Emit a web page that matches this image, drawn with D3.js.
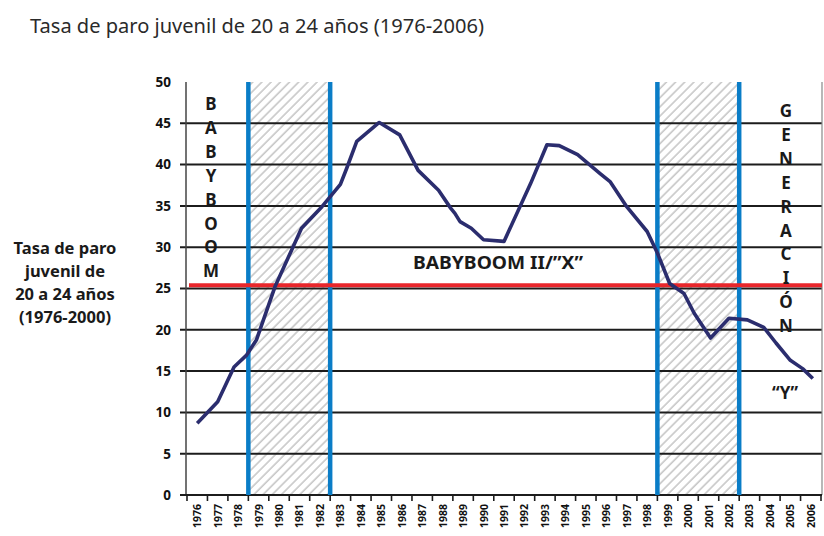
<!DOCTYPE html>
<html>
<head>
<meta charset="utf-8">
<script src="https://cdn.jsdelivr.net/npm/d3@7"></script>
<style>
  body { margin: 0; background: #fff; }
  text { font-family: 'Noto Sans', sans-serif; }
</style>
</head>
<body>
<div id="graf"></div>
<script>
// Datos
const anios = [1976, 1977, 1978, 1979, 1980, 1981, 1982, 1983, 1984, 1985, 1986,
  1987, 1988, 1989, 1990, 1991, 1992, 1993, 1994, 1995, 1996, 1997, 1998, 1999,
  2000, 2001, 2002, 2003, 2004, 2005, 2006]

// periodo (año con decimales) y tasa de paro
const periodo = [1976.0, 1977.0, 1977.8, 1978.4, 1978.9, 1979.8, 1981.1, 1982.1,
  1983.0, 1983.3, 1983.8, 1984.9, 1985.9, 1986.8, 1987.8, 1988.4, 1988.6, 1988.85,
  1989.4, 1990.0, 1991.0, 1992.3, 1993.1, 1993.7, 1994.6, 1995.7, 1996.2, 1997.0,
  1998.0, 1998.5, 1999.1, 1999.8, 2000.3, 2001.1, 2002.0, 2002.9, 2003.7, 2004.3,
  2005.0, 2005.6, 2006.1]
const tasa = [8.7, 11.3, 15.5, 16.9, 18.8, 25.2, 32.3, 34.9,
  37.6, 39.5, 42.8, 45.1, 43.6, 39.3, 36.9, 34.7, 34.1, 33.1,
  32.3, 30.9, 30.7, 37.7, 42.4, 42.3, 41.2, 38.9, 37.9, 34.9,
  31.9, 29.3, 25.6, 24.4, 22.0, 19.0, 21.4, 21.2, 20.3, 18.4,
  16.3, 15.3, 14.1]

const yTicks = [0, 5, 10, 15, 20, 25, 30, 35, 40, 45, 50]
const gridValores = [5, 10, 15, 20, 25, 30, 35, 40, 45]
const umbral = 25.4
// periodos sombreados [inicio, fin)
const periodosInicio = [1979, 1999]
const periodosFin = [1983, 2003]

const titulo = 'Tasa de paro juvenil de 20 a 24 años (1976-2006)'
const etiquetaY = ['Tasa de paro', 'juvenil de', '20 a 24 años', '(1976-2000)']
const generacion1 = 'BABYBOOM'
const generacion2 = 'BABYBOOM II/\u201DX\u201D'
const generacion3 = 'GENERACIÓN'
const generacion4 = '\u201CY\u201D'

// Dimensiones
const anchoTotal = 824
const altoTotal = 536
const margins = { top: 82, right: 3, bottom: 41, left: 187 }
const ancho = anchoTotal - margins.left - margins.right
const alto = altoTotal - margins.top - margins.bottom

const svg = d3.select('#graf').append('svg')
  .attr('width', anchoTotal)
  .attr('height', altoTotal)

const defs = svg.append('defs')
const patron = defs.append('pattern')
  .attr('id', 'rayado')
  .attr('patternUnits', 'userSpaceOnUse')
  .attr('width', 6.5)
  .attr('height', 6.5)
  .attr('patternTransform', 'rotate(45)')
patron.append('line')
  .attr('x1', 1).attr('y1', 0).attr('x2', 1).attr('y2', 6.5)
  .attr('stroke', '#adadad')
  .attr('stroke-width', 1.1)

// Título
svg.append('text')
  .attr('x', 30)
  .attr('y', 33)
  .attr('font-size', 20)
  .attr('fill', '#2a2a2a')
  .attr('textLength', 454)
  .attr('lengthAdjust', 'spacingAndGlyphs')
  .text(titulo)

// Etiqueta del eje Y
svg.append('g')
  .selectAll('text')
  .data(etiquetaY)
  .join('text')
  .attr('x', 65)
  .attr('y', (d, i) => 254 + i * 23)
  .attr('text-anchor', 'middle')
  .attr('font-size', 16.5)
  .attr('font-weight', 'bold')
  .attr('fill', '#1a1a1a')
  .text(d => d)

const g = svg.append('g')
  .attr('transform', `translate(${margins.left}, ${margins.top})`)

// Escaladores
const x = d3.scaleBand()
  .domain(anios)
  .range([0, ancho])
const xt = d3.scaleLinear()
  .domain([anios[0] - 0.5, anios[anios.length - 1] + 0.5])
  .range([0, ancho])
const y = d3.scaleLinear()
  .domain([0, 50])
  .range([alto, 0])

// Periodos sombreados
const periodos = periodosInicio.map((d, i) => [d, periodosFin[i]])
g.append('g')
  .selectAll('rect')
  .data(periodos)
  .join('rect')
  .attr('x', d => x(d[0]))
  .attr('y', y(50))
  .attr('width', d => x(d[1]) - x(d[0]))
  .attr('height', y(0) - y(50))
  .attr('fill', 'url(#rayado)')

// Líneas horizontales
g.append('g')
  .selectAll('line')
  .data(gridValores)
  .join('line')
  .attr('x1', -7)
  .attr('x2', ancho + 1)
  .attr('y1', d => y(d))
  .attr('y2', d => y(d))
  .attr('stroke', '#1c1c1c')
  .attr('stroke-width', 2)

// Eje Y
g.append('line')
  .attr('x1', -1).attr('x2', -1)
  .attr('y1', y(50)).attr('y2', y(0))
  .attr('stroke', '#444')
  .attr('stroke-width', 1.5)
g.append('line')
  .attr('x1', ancho + 1).attr('x2', ancho + 1)
  .attr('y1', y(50)).attr('y2', y(0))
  .attr('stroke', '#888')
  .attr('stroke-width', 1.2)

g.append('g')
  .selectAll('text')
  .data(yTicks)
  .join('text')
  .attr('x', -16)
  .attr('y', d => y(d))
  .attr('dy', '0.36em')
  .attr('text-anchor', 'end')
  .attr('font-size', 13.5)
  .attr('font-weight', 'bold')
  .attr('fill', '#111')
  .text(d => d)

// Eje X
g.append('line')
  .attr('x1', -7).attr('x2', ancho + 1)
  .attr('y1', y(0)).attr('y2', y(0))
  .attr('stroke', '#1c1c1c')
  .attr('stroke-width', 2.2)

const limites = anios.map(d => x(d)).concat([ancho])
g.append('g')
  .selectAll('line')
  .data(limites)
  .join('line')
  .attr('x1', d => d).attr('x2', d => d)
  .attr('y1', y(0)).attr('y2', y(0) + 6)
  .attr('stroke', '#1c1c1c')
  .attr('stroke-width', 1.6)

g.append('g')
  .selectAll('text')
  .data(anios)
  .join('text')
  .attr('transform', d => `translate(${x(d) + x.bandwidth() / 2 + 4}, ${y(0) + 9}) rotate(-90)`)
  .attr('text-anchor', 'end')
  .attr('font-size', 10.5)
  .attr('font-weight', 'bold')
  .attr('fill', '#111')
  .text(d => d)

// Líneas azules
const bordes = periodosInicio.concat(periodosFin)
g.append('g')
  .selectAll('line')
  .data(bordes)
  .join('line')
  .attr('x1', d => x(d)).attr('x2', d => x(d))
  .attr('y1', y(50)).attr('y2', y(0))
  .attr('stroke', '#0a7dc7')
  .attr('stroke-width', 4.5)

// Línea roja
g.append('line')
  .attr('x1', 2).attr('x2', ancho + 1)
  .attr('y1', y(umbral)).attr('y2', y(umbral))
  .attr('stroke', '#e8262b')
  .attr('stroke-width', 4)

// Textos de generaciones
const letras = (texto, cx, y0) => g.append('g')
  .selectAll('text')
  .data(texto.split(''))
  .join('text')
  .attr('x', cx)
  .attr('y', (d, i) => y0 + i * 23.9)
  .attr('text-anchor', 'middle')
  .attr('font-size', 17)
  .attr('font-weight', 'bold')
  .attr('fill', '#1a1a1a')
  .text(d => d)

letras(generacion1, 211 - margins.left, 110 - margins.top)
letras(generacion3, 786 - margins.left, 117 - margins.top)

g.append('text')
  .attr('x', 498 - margins.left)
  .attr('y', 269 - margins.top)
  .attr('text-anchor', 'middle')
  .attr('font-size', 17)
  .attr('font-weight', 'bold')
  .attr('fill', '#1a1a1a')
  .attr('textLength', 170)
  .attr('lengthAdjust', 'spacingAndGlyphs')
  .text(generacion2)

g.append('text')
  .attr('x', 785 - margins.left)
  .attr('y', 399 - margins.top)
  .attr('text-anchor', 'middle')
  .attr('font-size', 17)
  .attr('font-weight', 'bold')
  .attr('fill', '#1a1a1a')
  .text(generacion4)

// Serie
const datos = periodo.map((d, i) => ({ periodo: d, tasa: tasa[i] }))
const linea = d3.line()
  .x(d => xt(d.periodo))
  .y(d => y(d.tasa))
  .curve(d3.curveLinear)

g.append('path')
  .datum(datos)
  .attr('d', linea)
  .attr('fill', 'none')
  .attr('stroke', '#2b2d6e')
  .attr('stroke-width', 3.6)
  .attr('stroke-linejoin', 'round')
</script>
</body>
</html>
